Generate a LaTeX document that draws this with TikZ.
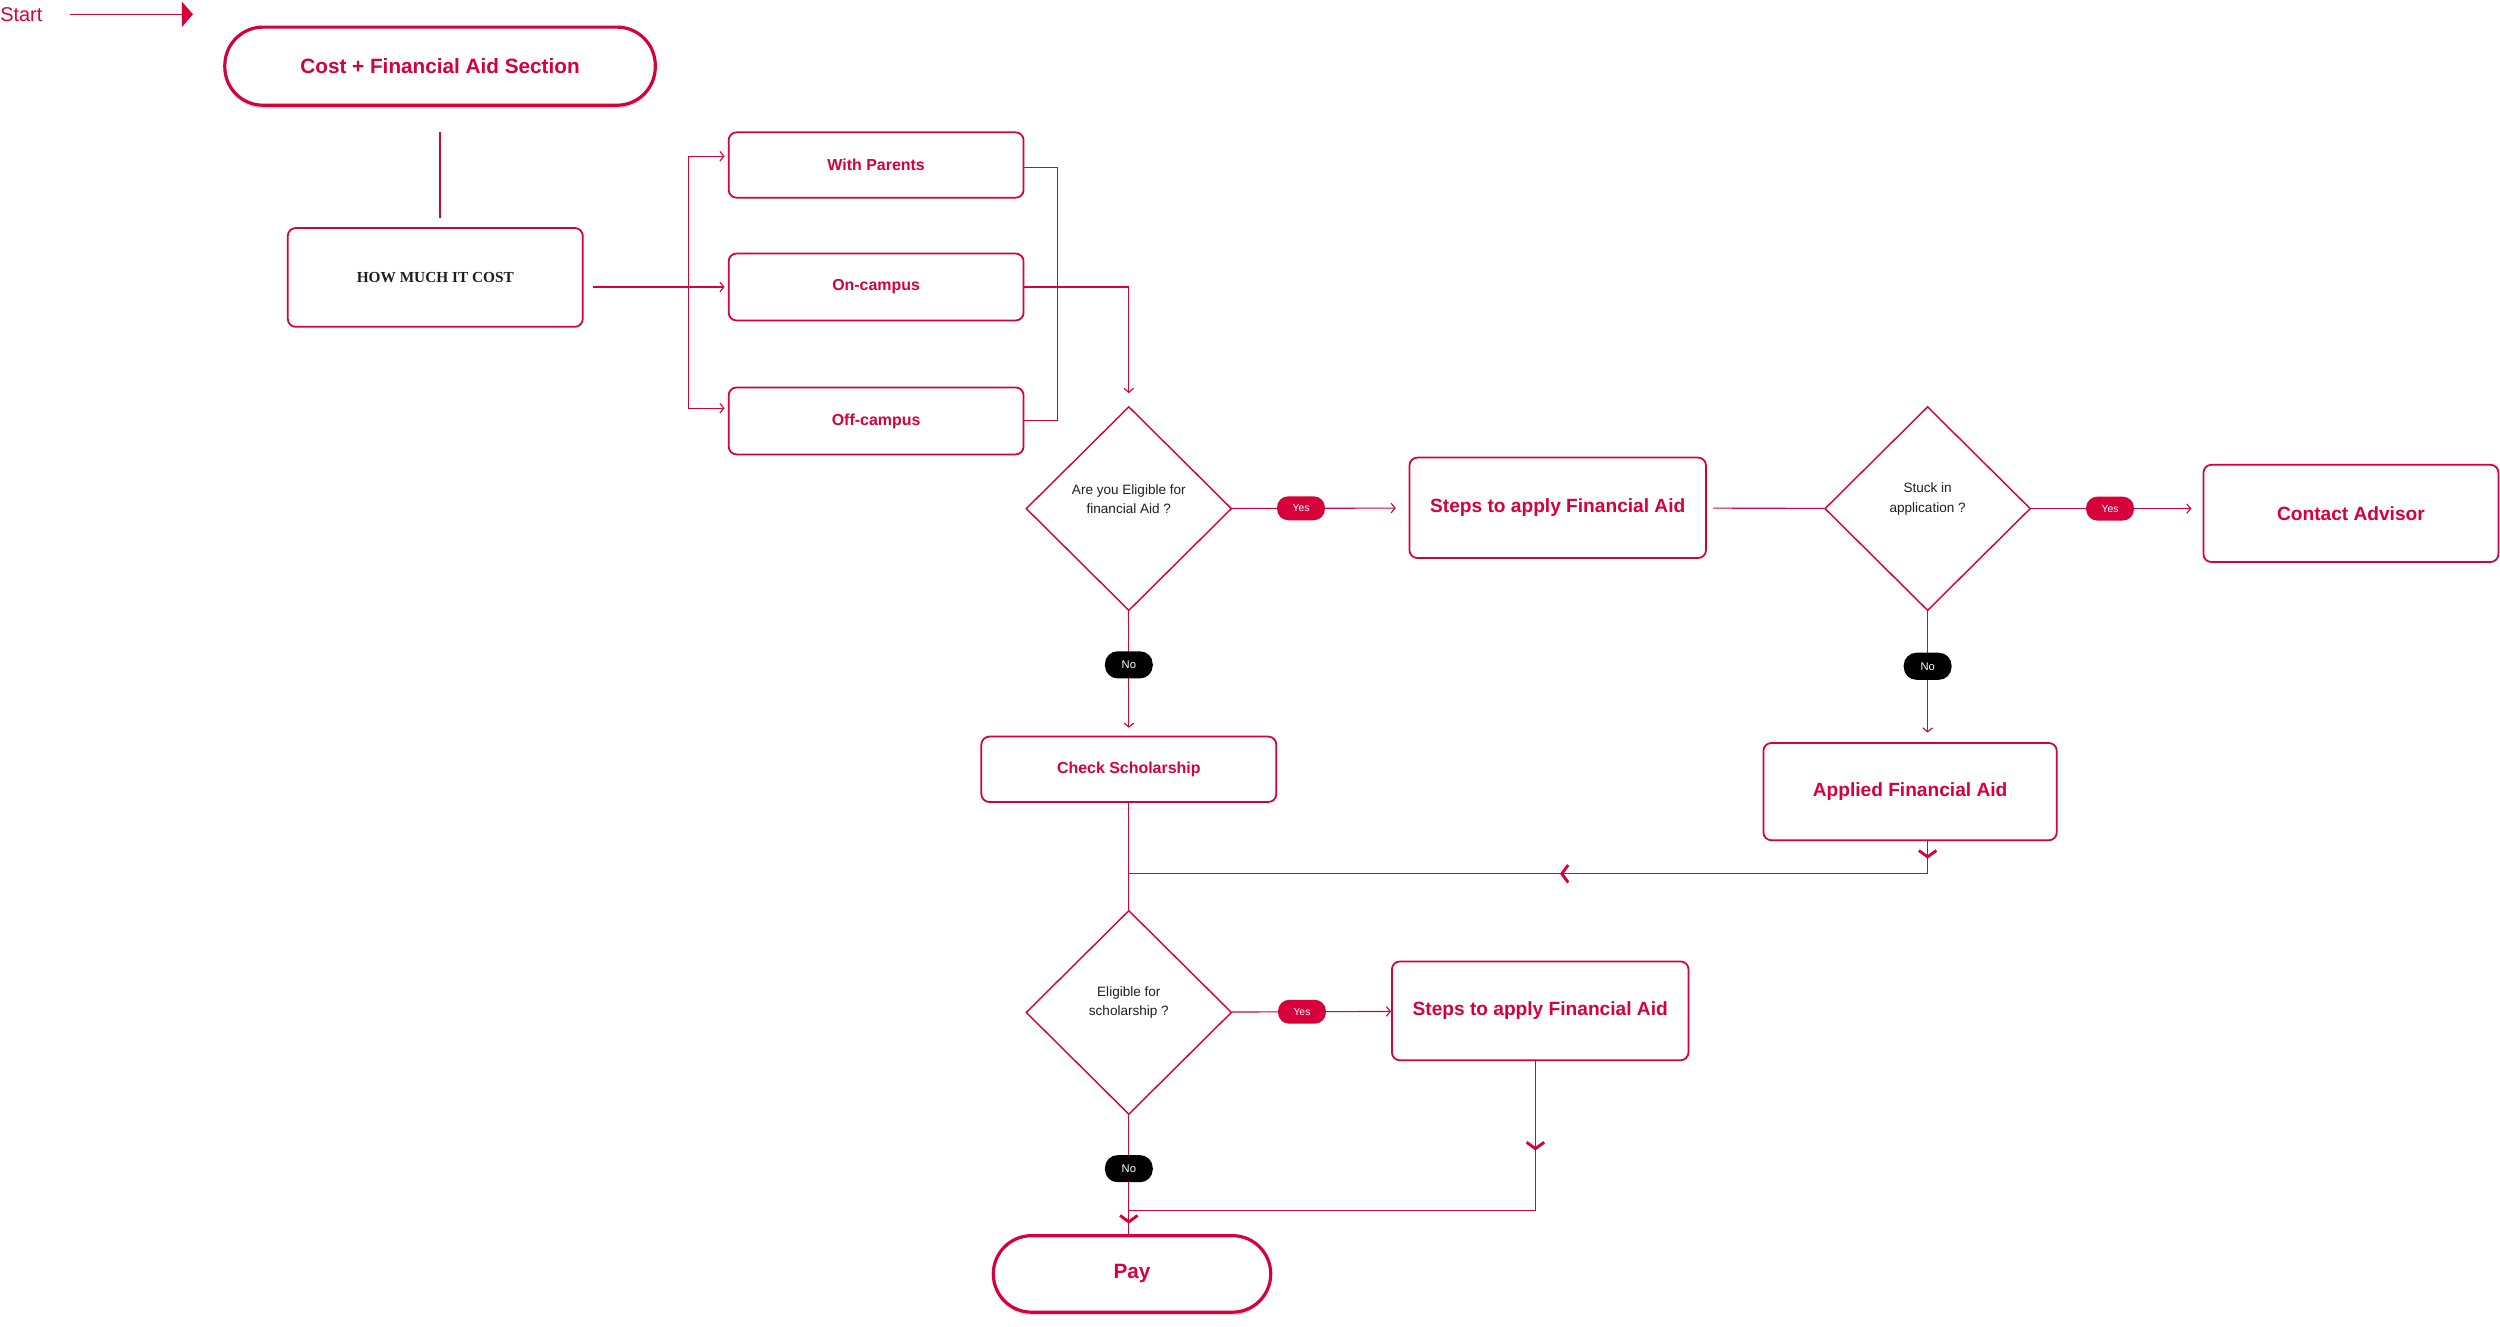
\documentclass[tikz,border=0pt]{standalone}
\usepackage{fontspec}
\setmainfont{Liberation Sans}
\newfontfamily\costfont{Liberation Serif}
\usetikzlibrary{arrows.meta}
\usetikzlibrary{shapes.geometric}
\usetikzlibrary{shadows}
\usetikzlibrary{decorations.markings}
\definecolor{crimson}{HTML}{D6003B}
\definecolor{ink}{HTML}{1E1E1E}
\tikzset{chev/.tip={Straight Barb[length=4pt,width=11pt,line width=1.8pt]}}

\begin{document}
\begin{tikzpicture}[x=1pt,y=-1pt,
	line/.style={draw=crimson,line width=.7pt},
	flow/.style={line,-{Straight Barb[length=2.5pt,width=6pt]}},
	startarrow/.style={draw=crimson,line width=.8pt,-{Triangle[length=7pt,width=16pt]}},
	chevron/.style={postaction={decorate},decoration={markings,mark=at position #1 with {\arrow{chev}}}},
	chevrons/.style 2 args={postaction={decorate},decoration={markings,mark=at position #1 with {\arrow{chev}},mark=at position #2 with {\arrow{chev}}}},
	box/.style={rectangle,rounded corners=5pt,draw=crimson,line width=1.1pt,fill=white,text=crimson,font=\bfseries\fontsize{12}{14}\selectfont,minimum width=185pt,minimum height=62pt,inner sep=0pt},
	option/.style={box,minimum height=42pt,font=\bfseries\fontsize{10}{12}\selectfont},
	terminal/.style={box,rounded corners=24pt,line width=2pt,font=\bfseries\fontsize{13}{15}\selectfont,drop shadow={shadow xshift=0pt,shadow yshift=-2pt,opacity=.25,fill=black!60}},
	decision/.style={diamond,draw=crimson,line width=.9pt,fill=white,minimum width=129pt,minimum height=128pt,inner sep=0pt},
	qtext/.style={text=ink,align=center,font=\fontsize{8.5}{12}\selectfont},
	yes/.style={rectangle,rounded corners=7pt,fill=crimson,text=white,minimum width=30pt,minimum height=15pt,inner sep=0pt,font=\fontsize{6.5}{7}\selectfont},
	no/.style={yes,fill=black,rounded corners=8pt,minimum height=17pt,font=\fontsize{7}{8}\selectfont}]
	\useasboundingbox (0,0) rectangle (1568,832);
	\node[anchor=west,inner sep=0pt,text=crimson,font=\fontsize{12.5}{14}\selectfont] (start) at (0,9) {Start};
	\coordinate (startend) at (121,9);
	\node[terminal,minimum width=270pt,minimum height=49pt] (cost) at (276,41.5) {Cost + Financial Aid Section};
	\node[box,text=ink,font=\costfont\bfseries\fontsize{9.6}{11}\selectfont] (how) at (273,174) {HOW MUCH IT COST};
	\node[option,minimum height=41pt] (par) at (549.5,103.5) {With Parents};
	\node[option] (on) at (549.5,180) {On-campus};
	\node[option] (off) at (549.5,264) {Off-campus};
	\coordinate (fork) at (432,180);
	\coordinate (merge) at (663,264);
	\node[decision,label={[qtext,yshift=6pt]center:{Are you Eligible for\\financial Aid ?}}] (q1) at (708,319) {};
	\node[box,minimum width=186pt,minimum height=63pt] (steps1) at (977,318.5) {Steps to apply Financial Aid};
	\node[decision,label={[qtext,yshift=6pt]center:{Stuck in\\application ?}}] (q2) at (1209,319) {};
	\node[box,minimum height=61pt] (advisor) at (1474.5,322) {Contact Advisor};
	\node[option,minimum height=41pt] (check) at (708,482.5) {Check Scholarship};
	\node[box,minimum width=184pt,minimum height=61pt] (applied) at (1198,496.5) {Applied Financial Aid};
	\coordinate (back) at (708,548);
	\node[decision,label={[qtext,yshift=6pt]center:{Eligible for\\scholarship ?}}] (q3) at (708,635) {};
	\node[box,minimum width=186pt] (steps2) at (966,634) {Steps to apply Financial Aid};
	\coordinate (back2) at (708,759);
	\node[terminal,minimum width=174pt,minimum height=48pt] (pay) at (710,799) {Pay};

	\draw[startarrow,shorten <=17pt] (start.east) -- (startend);
	\draw[line,shorten <=16pt,shorten >=6pt] (cost.south) -- (cost.south |- how.north);
	\draw[flow,shorten <=6pt,shorten >=2pt] (how.east |- on.west) -- (on.west);
	\draw[flow,shorten >=2pt] (fork) |- ([yshift=5.5pt]par.west);
	\draw[flow,shorten >=2pt] (fork) |- ([yshift=8pt]off.west);
	\draw[line] ([yshift=-1.5pt]par.east) -| (merge) -- (off.east);
	\draw[flow,shorten >=8pt] (on.east) -| (q1.north);
	\path (q1) edge[flow,shorten >=8pt] node[yes,pos=.39] {Yes} (steps1);
	\path (steps1) edge[line,shorten <=4pt] (q2);
	\path (q2.east) edge[flow,shorten >=7pt] node[yes,pos=.46] {Yes} (q2.east -| advisor.west);
	\path (q1) edge[flow,shorten >=5pt] node[no,pos=.43] {No} (check);
	\path (q2.south) edge[flow,shorten >=6pt] node[no,pos=.42] {No} (q2.south |- applied.north);
	\draw[line,chevrons={11pt}{251pt}] (q2.south |- applied.south) |- (back);
	\draw[line] (check) -- (q3);
	\path (q3) edge[flow] node[yes,pos=.44] {Yes} (steps2);
	\draw[line,chevron=56pt] ([xshift=-3pt]steps2.south) |- (back2);
	\draw[line,chevron=68pt] (q3.south) -- node[no,pos=.45] {No} (q3.south |- pay.north);
\end{tikzpicture}
\end{document}
